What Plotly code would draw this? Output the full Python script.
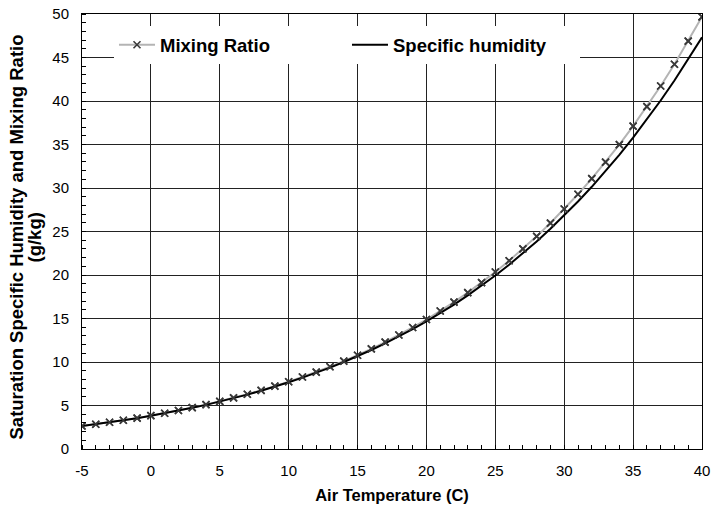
import plotly.graph_objects as go

temperature = list(range(-5, 41))
mixing_ratio = [2.64, 2.84, 3.07, 3.30, 3.55, 3.83, 4.11, 4.42, 4.75, 5.10,
                5.47, 5.87, 6.29, 6.74, 7.22, 7.73, 8.27, 8.84, 9.45, 10.10,
                10.78, 11.51, 12.28, 13.10, 13.97, 14.88, 15.86, 16.88, 17.97, 19.13,
                20.35, 21.64, 23.00, 24.44, 25.97, 27.58, 29.28, 31.08, 32.98, 34.99,
                37.12, 39.36, 41.73, 44.23, 46.88, 49.67]
specific_humidity = [2.63, 2.84, 3.06, 3.29, 3.54, 3.81, 4.10, 4.40, 4.73, 5.07,
                     5.44, 5.84, 6.25, 6.70, 7.17, 7.67, 8.20, 8.76, 9.36, 10.00,
                     10.67, 11.38, 12.13, 12.93, 13.77, 14.67, 15.61, 16.60, 17.66, 18.77,
                     19.94, 21.18, 22.48, 23.86, 25.31, 26.84, 28.45, 30.14, 31.93, 33.81,
                     35.79, 37.87, 40.06, 42.36, 44.78, 47.32]

x_ticks = [-5, 0, 5, 10, 15, 20, 25, 30, 35, 40]
y_ticks = [0, 5, 10, 15, 20, 25, 30, 35, 40, 45, 50]
y_title_lines = ["Saturation Specific Humidity and Mixing Ratio", "(g/kg)"]

font_family = "Liberation Sans, Arial, Helvetica, sans-serif"

fig = go.Figure()
fig.add_trace(go.Scatter(
    x=temperature, y=mixing_ratio, name="Mixing Ratio", mode="lines+markers",
    line=dict(color="#b4b4b4", width=2),
    marker=dict(symbol="x-thin", size=7, color="#3a3a3a",
                line=dict(color="#3a3a3a", width=1.6)),
))
fig.add_trace(go.Scatter(
    x=temperature, y=specific_humidity, name="Specific humidity", mode="lines",
    line=dict(color="#000000", width=2),
))
fig.add_trace(go.Scatter(
    x=temperature, y=mixing_ratio, mode="markers", showlegend=False,
    marker=dict(symbol="x-thin", size=7, color="#3a3a3a",
                line=dict(color="#3a3a3a", width=1.6)),
    hoverinfo="skip",
))

# y-axis title as two rotated lines
for text, shift in zip(y_title_lines, [-66, -48]):
    fig.add_annotation(
        text=f"<b>{text}</b>", xref="paper", yref="paper", x=0, y=0.5,
        xanchor="center", yanchor="middle", xshift=shift, yshift=-6,
        textangle=-90, showarrow=False,
        font=dict(size=18.5, family=font_family, color="black"),
    )

fig.update_layout(
    width=714, height=508,
    margin=dict(l=82, r=12, t=14, b=59, autoexpand=False),
    paper_bgcolor="white", plot_bgcolor="white",
    font=dict(family=font_family, size=15, color="black"),
    legend=dict(
        orientation="h", x=0.0516, y=0.972, xanchor="left", yanchor="top",
        bgcolor="white", borderwidth=0,
        font=dict(size=18.5, family=font_family, weight="bold"),
        entrywidth=182, entrywidthmode="pixels", itemwidth=36,
    ),
    xaxis=dict(
        range=[-5, 40], tickvals=x_ticks, ticktext=[str(v) for v in x_ticks],
        showgrid=True, gridcolor="#222222", gridwidth=1,
        showline=True, linecolor="black", linewidth=1, mirror=True,
        ticks="", zeroline=False, automargin=False, ticklabelstandoff=8,
        minor=dict(dtick=1, ticks="inside", ticklen=4, tickcolor="black", showgrid=False),
        title=dict(text="<b>Air Temperature (C)</b>", font=dict(size=16.5), standoff=11),
        tickfont=dict(size=15),
    ),
    yaxis=dict(
        range=[0, 50], tickvals=y_ticks, ticktext=[str(v) for v in y_ticks],
        showgrid=True, gridcolor="#222222", gridwidth=1,
        showline=True, linecolor="black", linewidth=1, mirror=True,
        ticks="", zeroline=False, automargin=False, ticklabelstandoff=9,
        minor=dict(dtick=1, ticks="inside", ticklen=4, tickcolor="black", showgrid=False),
        tickfont=dict(size=15),
    ),
)

fig.write_html("out.html", config={"displayModeBar": False},
               post_script="document.body.style.margin='0';")
